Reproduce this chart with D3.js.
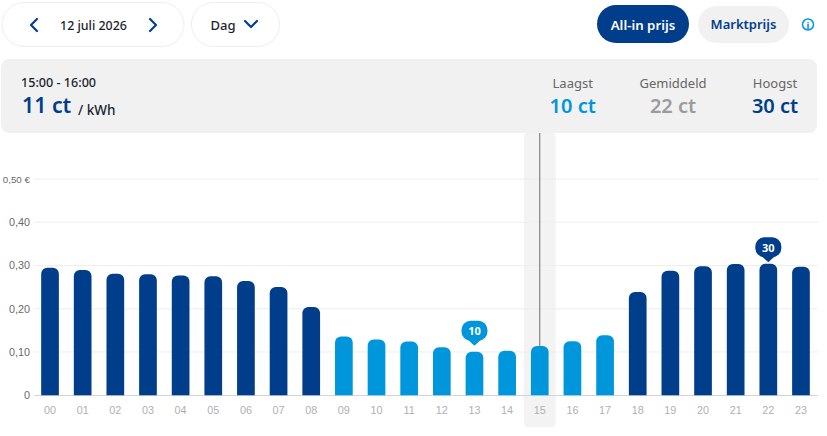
<!DOCTYPE html>
<html><head><meta charset="utf-8">
<script src="https://cdn.jsdelivr.net/npm/d3@7/dist/d3.min.js"></script>
<style>html,body{margin:0;padding:0;background:#fff;overflow:hidden}svg{display:block}</style>
</head><body><svg id="c" width="827" height="436"></svg>
<script>
const hours = ["00","01","02","03","04","05","06","07","08","09","10","11","12","13","14","15","16","17","18","19","20","21","22","23"];
const prices = [0.295,0.2895,0.281,0.280,0.277,0.275,0.264,0.250,0.204,0.136,0.129,0.124,0.111,0.1005,0.103,0.114,0.125,0.1385,0.2385,0.288,0.298,0.3035,0.304,0.297];
const lowHours = ["09","10","11","12","13","14","15","16","17"];
const yTicks = [0,0.1,0.2,0.3,0.4,0.5];
const yTickLabels = ["0","0,10","0,20","0,30","0,40","0,50 €"];
const selectedHour = "15";
const callouts = [{hour:"13",label:"10"},{hour:"22",label:"30"}];
const summaryCols = [
 {title:"Laagst",value:"10 ct",color:"#0096dc"},
 {title:"Gemiddeld",value:"22 ct",color:"#9b9b9b"},
 {title:"Hoogst",value:"30 ct",color:"#003e8c"}];

const NAVY="#003e8c", SKY="#0096dc", INK="#1b1f2e", FONT="'Noto Sans',sans-serif", AXF="'Liberation Sans',sans-serif";
const svg=d3.select("#c");
const x=d3.scaleBand().domain(hours).range([33.7,817.3]).paddingInner(0.458).paddingOuter(0.229);
const y=d3.scaleLinear().domain([0,0.5]).range([395.2,179]);
const summaryX=[572.7,673,775];
const text=(t,px,py,size,fill,w,anchor,fam)=>svg.append("text").text(t).attr("x",px).attr("y",py)
  .attr("font-size",size).attr("fill",fill).attr("font-weight",w||400).attr("text-anchor",anchor||"start").attr("font-family",fam||FONT);
const pill=(px,py,w,h,r,fill,stroke)=>svg.append("rect").attr("x",px).attr("y",py).attr("width",w).attr("height",h).attr("rx",r)
  .attr("fill",fill).attr("stroke",stroke||"none").attr("stroke-width",stroke?1:0);
const chev=(d,stroke)=>svg.append("path").attr("d",d).attr("fill","none").attr("stroke",stroke||NAVY).attr("stroke-width",2.2).attr("stroke-linecap","round").attr("stroke-linejoin","round");

// Top controls
pill(2,2.5,182,44,22,"#fff","#eeeeee");
pill(191.5,2.5,88,44,22,"#fff","#eeeeee");
chev("M37,19 L31,25 L37,31");
chev("M150,19 L156,25 L150,31");
text("12 juli 2026",93.5,29.5,12.4,INK,500,"middle");
text("Dag",223,29.5,13,INK,500,"middle");
chev("M245,21 L251,27 L257,21");
pill(597,5,92,38,19,NAVY);
text("All-in prijs",643,29.5,13.3,"#fff",600,"middle");
pill(698,6,91,37,18.5,"#f1f1f1");
text("Marktprijs",743.5,29,13,NAVY,600,"middle");
svg.append("circle").attr("cx",808).attr("cy",24.5).attr("r",5.5).attr("fill","none").attr("stroke",SKY).attr("stroke-width",1.5);
text("i",808,28.5,9,SKY,800,"middle");

// Summary panel
pill(1,59,816,74,8,"#f1f1f1");
text("15:00 - 16:00",21,87,12.6,INK,500);
text("11 ct",22,113,21.3,NAVY,600);
text("/ kWh",78,115,13.5,INK,500);
summaryCols.forEach((c,i)=>{
  text(c.title,summaryX[i],88,13,"#666",400,"middle");
  text(c.value,summaryX[i],113,20,c.color,600,"middle");
});

// Selected column band
const selX=x(selectedHour)+x.bandwidth()/2;
pill(selX-16,133,32,294,4,"#f3f3f3");

// Grid
svg.append("g").selectAll("line").data(yTicks.slice(1)).join("line")
  .attr("x1",34).attr("x2",818).attr("y1",d=>y(d)).attr("y2",d=>y(d))
  .attr("stroke","#eeeeee").attr("stroke-width",1);
svg.append("line").attr("x1",34).attr("x2",818).attr("y1",y(0)+.3).attr("y2",y(0)+.3).attr("stroke","#d4d4d8").attr("stroke-width",1);

// Axis labels
svg.append("g").selectAll("text").data(yTicks).join("text")
  .attr("x",30).attr("y",d=>y(d)+3.9).attr("text-anchor","end")
  .attr("font-family",AXF).attr("font-size",(d,i)=>i===5?9.8:10.8).attr("fill","#6a6a6a")
  .text((d,i)=>yTickLabels[i]);
svg.append("g").selectAll("text").data(hours).join("text")
  .attr("x",d=>x(d)+x.bandwidth()/2).attr("y",413.5).attr("text-anchor","middle")
  .attr("font-family",AXF).attr("font-size",10.8).attr("fill","#b0b0b0").text(d=>d);

// Bars with rounded tops
const barPath=(d,i)=>{
  const X=x(d),w=x.bandwidth(),t=y(prices[i]),b=y(0),r=6;
  return `M${X},${b}V${t+r}A${r},${r} 0 0 1 ${X+r},${t}H${X+w-r}A${r},${r} 0 0 1 ${X+w},${t+r}V${b}Z`;
};
svg.append("g").selectAll("path").data(hours).join("path").attr("d",barPath)
  .attr("fill",d=>lowHours.includes(d)?SKY:NAVY);

// Cursor line
svg.append("line").attr("x1",selX).attr("x2",selX).attr("y1",133).attr("y2",y(prices[hours.indexOf(selectedHour)]))
  .attr("stroke","#6f6f6f").attr("stroke-width",1);

// Callouts
callouts.forEach(c=>{
  const i=hours.indexOf(c.hour),cx=x(c.hour)+x.bandwidth()/2;
  const low=lowHours.includes(c.hour);
  const tip=y(prices[i])-(low?6:1.5);
  const col=low?SKY:NAVY;
  const h=20,w=26,top=tip-25;
  svg.append("rect").attr("x",cx-w/2).attr("y",top).attr("width",w).attr("height",h).attr("rx",9).attr("fill",col);
  svg.append("path").attr("d",`M${cx-7},${top+h-1.5}L${cx},${tip}L${cx+7},${top+h-1.5}Z`).attr("fill",col);
  text(c.label,cx,top+14.5,11,"#fff",700,"middle");
});
</script></body></html>
